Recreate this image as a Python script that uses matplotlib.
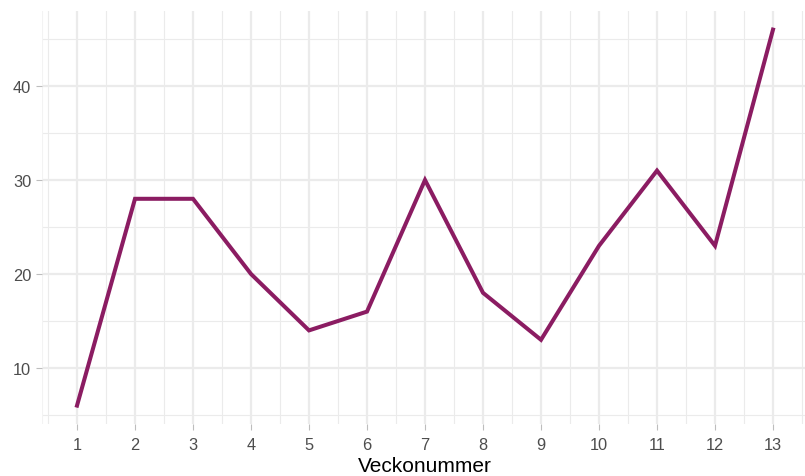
import matplotlib
matplotlib.use("Agg")
import matplotlib.pyplot as plt
import numpy as np

weeks = [1, 2, 3, 4, 5, 6, 7, 8, 9, 10, 11, 12, 13]
counts = [6, 28, 28, 20, 14, 16, 30, 18, 13, 23, 31, 23, 46]
x_ticks = list(range(1, 14))
y_ticks = [10, 20, 30, 40]
x_title = "Veckonummer"

plt.rcParams['font.family'] = ['Liberation Sans', 'DejaVu Sans']

W, H = 805, 477
fig = plt.figure(figsize=(W / 100, H / 100), dpi=100)
left, right, top, bottom = 42.2, 807.8, 11.8, 425.4
ax = fig.add_axes([left / W, (H - bottom) / H, (right - left) / W, (bottom - top) / H])

ax.set_xlim(0.4, 13.6)
ax.set_ylim(4, 48)

grid_col = "#EBEBEB"
for xm in np.arange(0.5, 14, 1.0):
    ax.axvline(xm, color=grid_col, lw=0.8, zorder=0)
for ym in [5, 15, 25, 35, 45]:
    ax.axhline(ym, color=grid_col, lw=0.8, zorder=0)
for xv in x_ticks:
    ax.axvline(xv, color=grid_col, lw=1.6, zorder=0)
for yv in y_ticks:
    ax.axhline(yv, color=grid_col, lw=1.6, zorder=0)
ax.axvline(0.4, color="#F3F3F3", lw=0.8, zorder=0)

ax.plot(weeks, counts, color="#8B1C62", lw=2.9, solid_joinstyle="miter", zorder=3)

for s in ax.spines.values():
    s.set_visible(False)
ax.set_xticks(x_ticks)
ax.set_xticklabels([str(v) for v in x_ticks])
ax.set_yticks(y_ticks)
ax.set_yticklabels([str(v) for v in y_ticks])
ax.tick_params(axis="both", length=4, width=0.8, color="#BDBDBD",
               labelcolor="#4D4D4D", labelsize=11.8, pad=4)
ax.tick_params(axis="x", pad=5)
ax.set_xlabel(x_title, fontsize=15, color="black", labelpad=3)

fig.savefig("out.png", dpi=100)
